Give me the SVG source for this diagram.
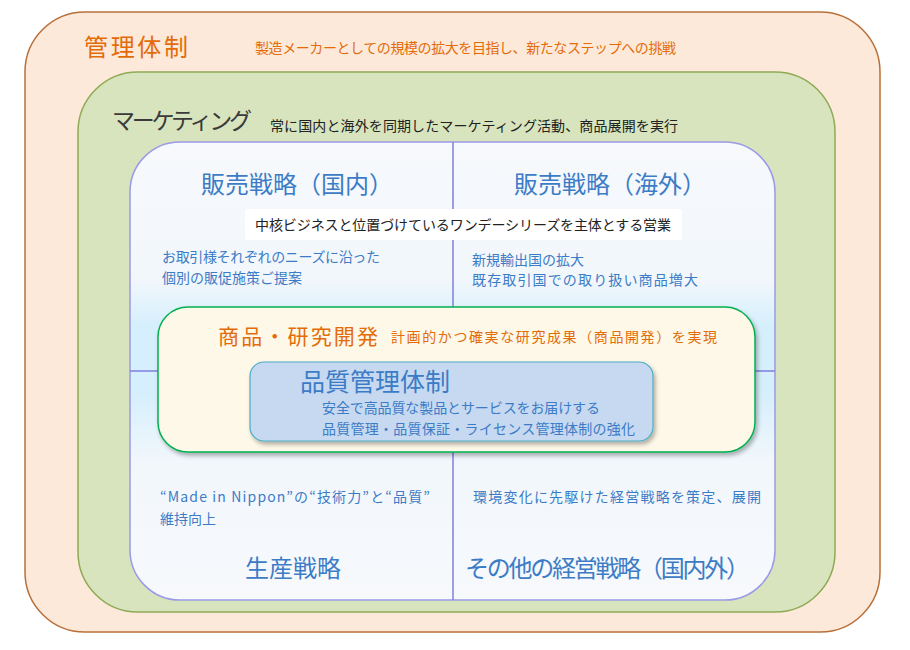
<svg xmlns="http://www.w3.org/2000/svg" width="910" height="650" viewBox="0 0 910 650">
<defs>
<linearGradient id="ig" x1="0" y1="0" x2="0" y2="1">
<stop offset="0" stop-color="#f7f9fc"/><stop offset="0.3" stop-color="#f2f7fc"/><stop offset="0.4" stop-color="#d6effc"/><stop offset="0.55" stop-color="#d6effc"/><stop offset="0.7" stop-color="#f2f7fc"/><stop offset="1" stop-color="#f7f9fc"/>
</linearGradient>
<filter id="sh" x="-5%" y="-5%" width="110%" height="115%"><feDropShadow dx="2" dy="3" stdDeviation="2" flood-color="#000" flood-opacity="0.3"/></filter>
</defs>
<style>
text{font-family:"Noto Sans CJK JP","Noto Sans",sans-serif}
.big{font-size:24px;fill:#3c7cc6}
.blue{font-size:14px;fill:#3c7cc6}
.or{fill:#e36c09}
</style>
<g id="mgmt"><rect x="25" y="12" width="855" height="620" rx="60" fill="#fde9d9" stroke="#b8703a" stroke-width="1.5"/>
<text x="84" y="56" class="or" font-size="24" textLength="104">管理体制</text>
<text x="255" y="53" class="or" font-size="14" textLength="421">製造メーカーとしての規模の拡大を目指し、新たなステップへの挑戦</text></g>
<g id="marketing"><rect x="78" y="72" width="757" height="540" rx="60" fill="#d7e4bd" stroke="#8faa55" stroke-width="1.5"/>
<text x="112" y="129" font-size="23" fill="#3a3a3a" textLength="140">マーケティング</text>
<text x="270" y="131" font-size="14" fill="#222" textLength="408">常に国内と海外を同期したマーケティング活動、商品展開を実行</text></g>
<g id="strategy"><rect x="130" y="142" width="645" height="458" rx="50" fill="url(#ig)" stroke="#9a9ae8" stroke-width="1.5"/></g>
<g id="connectors" stroke="#7f7fdc" stroke-width="1.5"><line x1="453" y1="142" x2="453" y2="600"/><line x1="130" y1="371" x2="775" y2="371"/></g>
<g id="banner"><rect x="245" y="209" width="437" height="31" rx="3" fill="#fff"/>
<text x="463" y="230" text-anchor="middle" font-size="14" fill="#222" textLength="416">中核ビジネスと位置づけているワンデーシリーズを主体とする営業</text></g>
<g id="dom"><text x="297" y="193" text-anchor="middle" class="big">販売戦略（国内）</text>
<text x="162" y="262" class="blue" textLength="218">お取引様それぞれのニーズに沿った</text><text x="162" y="283" class="blue">個別の販促施策ご提案</text></g>
<g id="ovs"><text x="610" y="193" text-anchor="middle" class="big">販売戦略（海外）</text>
<text x="472" y="265" class="blue">新規輸出国の拡大</text><text x="472" y="285" class="blue" textLength="226">既存取引国での取り扱い商品増大</text></g>
<g id="prod"><text x="293" y="577" text-anchor="middle" class="big">生産戦略</text>
<text x="160" y="502" class="blue" textLength="270">“Made in Nippon”の“技術力”と“品質”</text><text x="160" y="524" class="blue">維持向上</text></g>
<g id="other"><text x="465" y="577" class="big" textLength="285">その他の経営戦略（国内外）</text>
<text x="473" y="502" class="blue" textLength="288">環境変化に先駆けた経営戦略を策定、展開</text></g>
<g id="rnd"><rect x="158" y="307" width="597" height="145" rx="30" fill="#fef8e8" stroke="#00b050" stroke-width="1.5" filter="url(#sh)"/>
<text x="218" y="344" class="or" font-size="21" textLength="160">商品・研究開発</text>
<text x="391" y="342" class="or" font-size="14" textLength="326">計画的かつ確実な研究成果（商品開発）を実現</text></g>
<g id="quality"><rect x="250" y="362" width="403" height="79" rx="14" fill="#c6d9f0" stroke="#4bacc6" stroke-width="1.2" filter="url(#sh)"/>
<text x="300" y="391" font-size="25" fill="#3c7cc6">品質管理体制</text>
<text x="322" y="413" class="blue" textLength="278">安全で高品質な製品とサービスをお届けする</text>
<text x="322" y="434" class="blue" textLength="313">品質管理・品質保証・ライセンス管理体制の強化</text></g>
</svg>
